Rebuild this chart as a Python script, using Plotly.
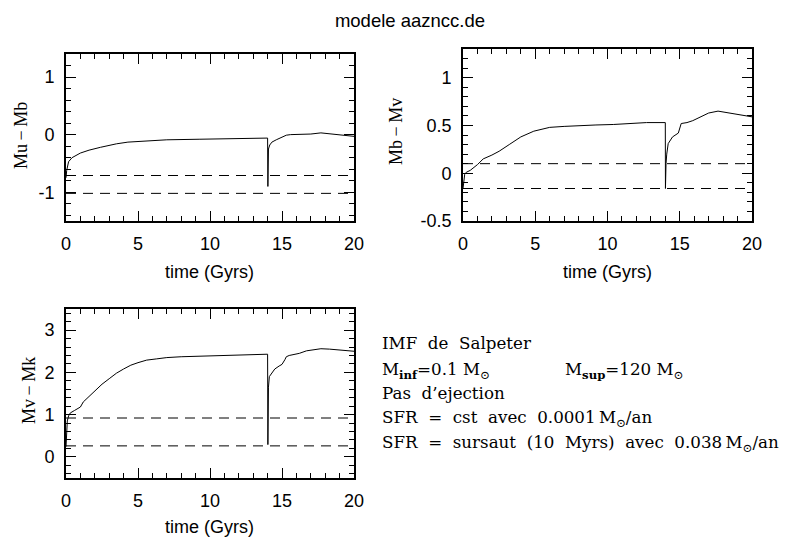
import plotly.graph_objects as go

# ---------------- data ----------------
title_text = "modele aazncc.de"
x_title = "time (Gyrs)"
x_tickvals = [0, 5, 10, 15, 20]
x_ticktext = ["0", "5", "10", "15", "20"]

# Panel 1 : Mu-Mb
t1 = [0, 0.05, 0.18, 0.42, 1.0, 1.6, 2.4, 3.0, 3.5, 4.3, 5.4, 7.0, 9.3, 11.6, 14.0,
      14.02, 14.06, 14.15, 14.3, 14.6, 15.0, 15.3, 15.6, 16.2, 17.0, 17.7, 18.5, 19.2, 20]
v1 = [-0.75, -0.62, -0.47, -0.40, -0.32, -0.27, -0.22, -0.18, -0.16, -0.13, -0.11, -0.09, -0.08, -0.07, -0.06,
      -0.90, -0.25, -0.18, -0.13, -0.09, -0.05, -0.01, 0.0, 0.0, 0.01, 0.03, 0.01, -0.01, -0.03]
dash1 = [-0.71, -1.02]
y1_tickvals = [-1, 0, 1]
y1_ticktext = ["-1", "0", "1"]
y1_title = "Mu\u2009\u2212\u2009Mb"

# Panel 2 : Mb-Mv
t2 = [0, 0.05, 0.12, 0.23, 0.5, 1.0, 1.4, 2.0, 2.5, 3.2, 4.0, 4.9, 6.0, 7.0, 8.1, 9.2, 10.4, 11.5, 12.7, 14.0,
      14.01, 14.05, 14.1, 14.2, 14.5, 14.9, 15.1, 15.5, 15.9, 16.5, 17.0, 17.65, 18.5, 19.1, 20]
v2 = [-0.16, -0.05, -0.01, 0.01, 0.03, 0.09, 0.15, 0.19, 0.23, 0.30, 0.38, 0.44, 0.48, 0.49, 0.50, 0.505, 0.51, 0.52, 0.53, 0.53,
      -0.16, 0.10, 0.20, 0.31, 0.38, 0.42, 0.52, 0.53, 0.55, 0.59, 0.63, 0.65, 0.63, 0.61, 0.59]
dash2 = [0.10, -0.16]
y2_tickvals = [-0.5, 0, 0.5, 1]
y2_ticktext = ["-0.5", "0", "0.5", "1"]
y2_title = "Mb\u2009\u2212\u2009Mv"

# Panel 3 : Mv-Mk
t3 = [0, 0.03, 0.09, 0.18, 0.3, 0.6, 1.0, 1.2, 1.45, 1.7, 2.1, 2.5, 3.0, 3.5, 4.0, 4.5, 5.0, 5.6, 6.3, 7.0, 8.0, 9.3,
      10.5, 11.6, 12.8, 14.0, 14.02, 14.06, 14.12, 14.3, 14.5, 14.8, 15.0, 15.2, 15.3, 15.5, 15.8, 16.2, 16.7, 17.2,
      17.7, 18.3, 18.8, 19.4, 20]
v3 = [0.24, 0.6, 0.85, 0.97, 1.04, 1.1, 1.18, 1.3, 1.38, 1.47, 1.6, 1.72, 1.85, 1.98, 2.08, 2.17, 2.23, 2.29, 2.32,
      2.35, 2.37, 2.38, 2.39, 2.40, 2.42, 2.43, 0.29, 1.65, 1.9, 2.0, 2.08, 2.15, 2.19, 2.3, 2.37, 2.40, 2.42, 2.45,
      2.51, 2.54, 2.56, 2.55, 2.54, 2.52, 2.50]
dash3 = [0.92, 0.26]
y3_tickvals = [0, 1, 2, 3]
y3_ticktext = ["0", "1", "2", "3"]
y3_title = "Mv\u2009\u2212\u2009Mk"

info_lines = [
    "IMF  de  Salpeter",
    "Pas  d\u2019ejection",
    "SFR  =  cst  avec  0.0001\u2009M<sub>\u2299</sub>/an",
    "SFR  =  sursaut  (10  Myrs)  avec  0.038\u2009M<sub>\u2299</sub>/an",
]
minf_text = "M<sub><b>inf</b></sub>=0.1 M<sub>\u2299</sub>"
msup_text = "M<sub><b>sup</b></sub>=120 M<sub>\u2299</sub>"

# ---------------- figure ----------------
# the page adds an 8px body margin, so the figure is drawn 8px smaller
# and every position below is given in window pixels minus that offset
OFF = 8
W, H = 787 - OFF, 539 - OFF
SANS = "Liberation Sans, Arial, Helvetica, sans-serif"
SERIF_T = "Liberation Serif, Times New Roman, serif"
SERIF_B = "DejaVu Serif, serif"

def px_x(p):
    return (p - OFF) / W

def px_y(p):
    return 1 - (p - OFF) / H

fig = go.Figure()

panels = [
    ("x", "y", t1, v1, dash1),
    ("x2", "y2", t2, v2, dash2),
    ("x3", "y3", t3, v3, dash3),
]
for xa, ya, t, v, dl in panels:
    for d in dl:
        fig.add_trace(go.Scatter(x=[x_tickvals[0], x_tickvals[-1]], y=[d, d], mode="lines",
                                 line=dict(color="black", width=1, dash="10px,7px"),
                                 xaxis=xa, yaxis=ya, showlegend=False, hoverinfo="skip"))
    fig.add_trace(go.Scatter(x=t, y=v, mode="lines", line=dict(color="black", width=1),
                             xaxis=xa, yaxis=ya, showlegend=False))

def xax(domain, anchor):
    return dict(domain=domain, anchor=anchor, range=[0, 20], tickvals=x_tickvals, ticktext=x_ticktext,
                ticks="inside", ticklen=10, tickwidth=1, tickcolor="black",
                minor=dict(dtick=1, ticks="inside", ticklen=5, tickwidth=1, tickcolor="black"),
                showline=True, linecolor="black", linewidth=1.6, mirror="allticks",
                showgrid=False, zeroline=False, ticklabelstandoff=6, automargin=False,
                tickfont=dict(family=SANS, size=18, color="black"))

def yax(domain, anchor, rng, tv, tt, mdt):
    return dict(domain=domain, anchor=anchor, range=rng, tickvals=tv, ticktext=tt,
                ticks="inside", ticklen=10, tickwidth=1, tickcolor="black",
                minor=dict(dtick=mdt, tick0=0, ticks="inside", ticklen=5, tickwidth=1, tickcolor="black"),
                showline=True, linecolor="black", linewidth=1.6, mirror="allticks",
                showgrid=False, zeroline=False, ticklabelstandoff=6, automargin=False,
                tickfont=dict(family=SANS, size=18, color="black"))

xd1 = [px_x(66), px_x(354)]
xd2 = [px_x(463), px_x(752)]
yd1 = [px_y(221), px_y(54)]
yd2 = [px_y(221), px_y(49)]
yd3 = [px_y(478), px_y(309)]

fig.update_layout(
    template="none",
    width=W, height=H, margin=dict(l=0, r=0, t=0, b=0, pad=0, autoexpand=False),
    paper_bgcolor="white", plot_bgcolor="white",
    xaxis=xax(xd1, "y"),
    yaxis=yax(yd1, "x", [-1.5, 1.4], y1_tickvals, y1_ticktext, 0.2),
    xaxis2=xax(xd2, "y2"),
    yaxis2=yax(yd2, "x2", [-0.5, 1.3], y2_tickvals, y2_ticktext, 0.1),
    xaxis3=xax(xd1, "y3"),
    yaxis3=yax(yd3, "x3", [-0.5, 3.5], y3_tickvals, y3_ticktext, 0.2),
    title=dict(text=title_text, x=px_x(410), xanchor="center", y=px_y(21), yanchor="middle",
               xref="paper", yref="container", automargin=False,
               font=dict(family=SANS, size=18.5, color="black")),
)

ann = []
# x axis titles
for cx, cy in [(210, 272), (607, 272), (210, 527)]:
    ann.append(dict(text=x_title, x=px_x(cx), y=px_y(cy), xref="paper", yref="paper",
                    xanchor="center", yanchor="middle", showarrow=False,
                    font=dict(family=SANS, size=18, color="black")))
# y axis titles
for txt, cx, cy in [(y1_title, 21, 136), (y2_title, 396, 132), (y3_title, 29, 391)]:
    ann.append(dict(text=txt, x=px_x(cx), y=px_y(cy), xref="paper", yref="paper",
                    xanchor="center", yanchor="middle", showarrow=False, textangle=-90,
                    font=dict(family=SERIF_T, size=18, color="black")))
# info block
line_y = [343, 393, 418, 443]
for txt, ly in zip(info_lines, line_y):
    ann.append(dict(text=txt, x=px_x(380), y=px_y(ly), xref="paper", yref="paper",
                    xanchor="left", yanchor="middle", showarrow=False,
                    font=dict(family=SERIF_B, size=16.7, color="black")))
ann.append(dict(text=minf_text, x=px_x(380), y=px_y(370), xref="paper", yref="paper",
                xanchor="left", yanchor="middle", showarrow=False,
                font=dict(family=SERIF_B, size=16.7, color="black")))
ann.append(dict(text=msup_text, x=px_x(563), y=px_y(370), xref="paper", yref="paper",
                xanchor="left", yanchor="middle", showarrow=False,
                font=dict(family=SERIF_B, size=16.7, color="black")))
fig.update_layout(annotations=ann)

fig.write_html("out.html")
